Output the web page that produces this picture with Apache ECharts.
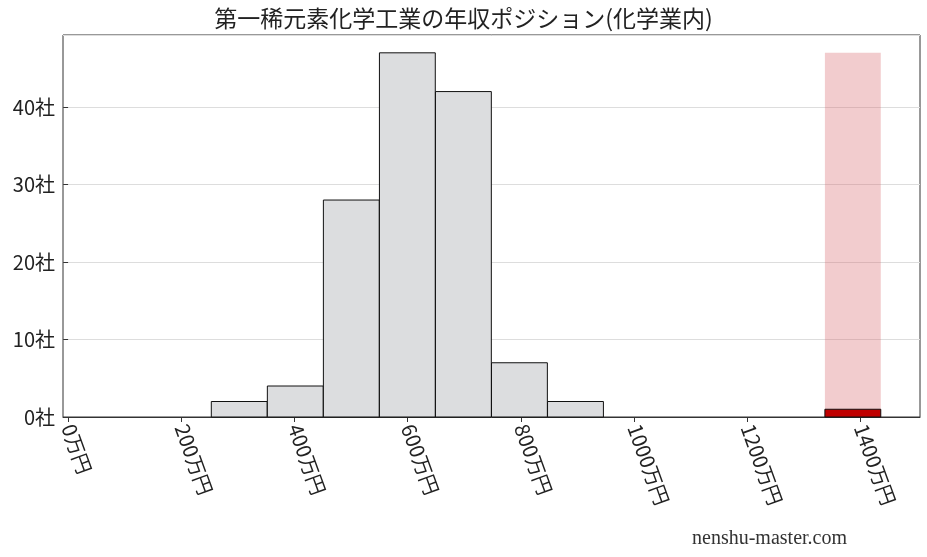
<!DOCTYPE html>
<html><head><meta charset="utf-8">
<script src="https://cdn.jsdelivr.net/npm/echarts@6/dist/echarts.min.js"></script>
<style>body{margin:0}#c{width:927px;height:557px}</style></head>
<body><div id="c"></div>
<script>
// histogram bins (万円) and company counts
var binStarts = [253, 352, 451, 550, 649, 748, 847];
var binWidth = 98.7;
var counts = [2, 4, 28, 47, 42, 7, 2];
var markStart = 1337;
var markCount = 1;
var markBg = 47;
var xTicks = [0, 200, 400, 600, 800, 1000, 1200, 1400];
var yTicks = [0, 10, 20, 30, 40];

var chart = echarts.init(document.getElementById("c"));
var font = "'Noto Sans CJK JP', serif";

function rect(fill, stroke, lw) {
  return function (params, api) {
    var p0 = api.coord([api.value(0), api.value(2)]);
    var p1 = api.coord([api.value(1), 0]);
    return {
      type: "rect",
      shape: { x: p0[0], y: p0[1], width: p1[0] - p0[0], height: p1[1] - p0[1] },
      style: { fill: fill, stroke: stroke, lineWidth: lw }
    };
  };
}

var histData = binStarts.map(function (s, i) { return [s, s + binWidth, counts[i]]; });

chart.setOption({
  animation: false,
  title: { text: "第一稀元素化学工業の年収ポジション(化学業内)", left: "center", top: 2,
    textStyle: { fontFamily: font, fontWeight: "normal", fontSize: 23, color: "#222" } },
  graphic: [{ type: "text", right: 80, bottom: 8,
    style: { text: "nenshu-master.com", font: "20px serif", fill: "#333" } }],
  grid: { left: 63, right: 7, top: 35, bottom: 140, show: true, borderColor: "#333", borderWidth: 1 },
  xAxis: { type: "value", min: -9, max: 1505,
    splitLine: { show: false },
    axisLine: { lineStyle: { color: "#333" } },
    axisTick: { customValues: xTicks, length: 5, lineStyle: { color: "#333" } },
    axisLabel: { customValues: xTicks, rotate: -70, fontFamily: font, fontSize: 20, color: "#222",
      formatter: function (v) { return v + "万円"; } } },
  yAxis: { type: "value", min: 0, max: 49.3, interval: 10,
    axisLine: { show: false },
    axisTick: { show: true, length: 5, lineStyle: { color: "#333" } },
    splitLine: { lineStyle: { color: "#ddd" } },
    axisLabel: { fontFamily: font, fontSize: 20, color: "#222", showMaxLabel: false,
      formatter: function (v) { return v + "社"; } } },
  series: [
    { type: "custom", renderItem: rect("rgba(215,100,105,0.33)", null, 0),
      data: [[markStart, markStart + binWidth, markBg]] },
    { type: "custom", renderItem: rect("#dcdddf", "#111", 1), data: histData },
    { type: "custom", renderItem: rect("#c00000", "#111", 1),
      data: [[markStart, markStart + binWidth, markCount]] }
  ]
});
</script></body></html>
